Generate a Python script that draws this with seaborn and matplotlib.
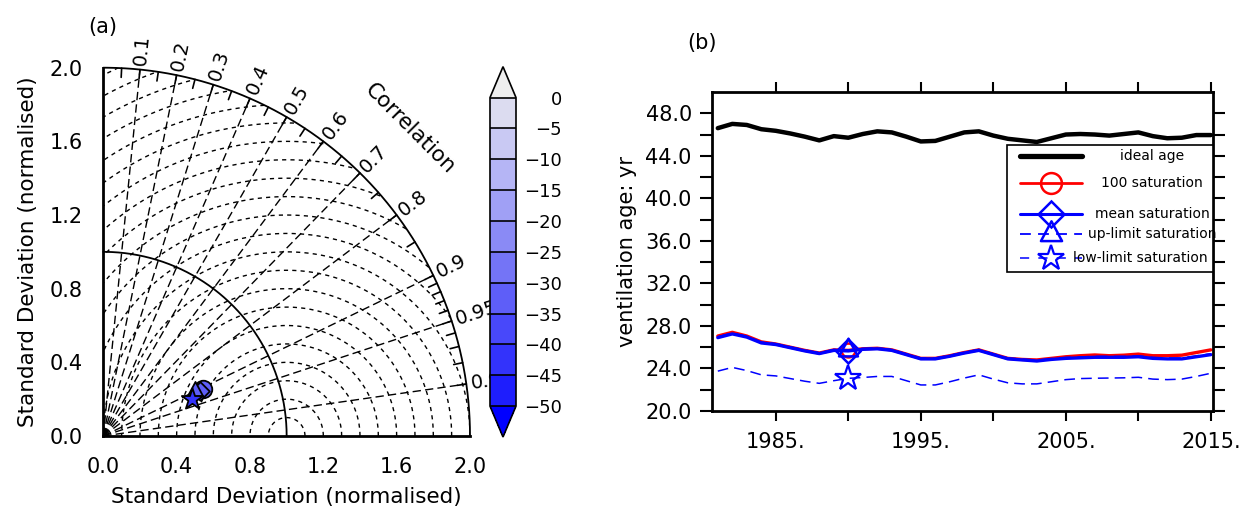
import numpy as np
import pandas as pd
import matplotlib
matplotlib.use("Agg")
import matplotlib.pyplot as plt
import seaborn as sns
from matplotlib.colors import ListedColormap, BoundaryNorm
from matplotlib.cm import ScalarMappable
from matplotlib.patches import Wedge, Rectangle
from matplotlib.lines import Line2D
from matplotlib.path import Path

# ---------------- data ----------------
years = list(range(1981, 2016))
ideal_age = [46.6, 47.0, 46.9, 46.5, 46.35, 46.1, 45.8, 45.45, 45.85, 45.7,
             46.05, 46.3, 46.2, 45.8, 45.35, 45.4, 45.8, 46.2, 46.3, 45.9,
             45.6, 45.45, 45.3, 45.65, 46.0, 46.05, 46.0, 45.9, 46.05, 46.2,
             45.85, 45.65, 45.7, 45.95, 45.95]
sat100 = [27.05, 27.4, 27.05, 26.5, 26.3, 26.0, 25.7, 25.45, 25.75, 25.7,
          25.85, 25.9, 25.75, 25.35, 24.95, 24.95, 25.2, 25.5, 25.75, 25.35,
          24.95, 24.85, 24.8, 24.95, 25.1, 25.2, 25.27, 25.2, 25.25, 25.35,
          25.2, 25.2, 25.25, 25.5, 25.75]
sat_mean = [26.9, 27.25, 26.95, 26.4, 26.25, 25.95, 25.65, 25.4, 25.7, 25.65,
            25.8, 25.85, 25.7, 25.3, 24.9, 24.9, 25.15, 25.45, 25.7, 25.3,
            24.9, 24.8, 24.7, 24.85, 24.95, 25.0, 25.05, 25.05, 25.05, 25.1,
            24.95, 24.9, 24.9, 25.1, 25.3]
sat_up = [26.98, 27.33, 27.03, 26.48, 26.33, 26.03, 25.73, 25.48, 25.78, 25.73,
          25.88, 25.93, 25.78, 25.38, 24.98, 24.98, 25.23, 25.53, 25.78, 25.38,
          24.98, 24.88, 24.78, 24.93, 25.03, 25.08, 25.13, 25.13, 25.13, 25.18,
          25.03, 24.98, 24.98, 25.18, 25.38]
sat_low = [23.75, 24.1, 23.8, 23.4, 23.3, 23.05, 22.8, 22.6, 22.85, 23.07,
           23.15, 23.25, 23.25, 22.85, 22.45, 22.45, 22.75, 23.1, 23.4, 23.0,
           22.65, 22.55, 22.55, 22.75, 22.95, 23.05, 23.08, 23.1, 23.12, 23.17,
           23.0, 22.95, 23.0, 23.25, 23.55]
marker_year = 1990

series_names = ["ideal age", "100 saturation", "mean saturation",
                "up-limit saturation", "low-limit saturation"]

# Taylor diagram data (normalised std, correlation, colour value)
taylor_names = ["100 saturation", "mean saturation", "up-limit saturation", "low-limit saturation"]
taylor_std = [0.599, 0.581, 0.555, 0.522]
taylor_corr = [0.905, 0.909, 0.897, 0.924]
taylor_val = [-33, -33, -33, -43]

corr_lines = [0.1, 0.2, 0.3, 0.4, 0.5, 0.6, 0.7, 0.8, 0.9, 0.95, 0.99]
corr_labels = ["0.1", "0.2", "0.3", "0.4", "0.5", "0.6", "0.7", "0.8", "0.9", "0.95", "0.99"]
corr_ticks = [0.05, 0.15, 0.25, 0.35, 0.45, 0.55, 0.65, 0.75, 0.85,
              0.91, 0.92, 0.93, 0.94, 0.96, 0.97, 0.98]
rms_levels = [round(0.1 * k, 1) for k in range(1, 23)]
std_arcs = [1.0, 2.0]
std_ticks = [0.0, 0.2, 0.4, 0.6, 0.8, 1.0, 1.2, 1.4, 1.6, 1.8, 2.0]
std_tick_labels = ["0.0", "", "0.4", "", "0.8", "", "1.2", "", "1.6", "", "2.0"]

cbar_levels = [-50, -45, -40, -35, -30, -25, -20, -15, -10, -5, 0]
cbar_colors = ["#1e1efd", "#3333fb", "#4848fa", "#5e5ef8", "#7474f6",
               "#8a8af5", "#a0a0f5", "#b5b5f5", "#c9c9f3", "#dcdcf0"]
cbar_under = "#0000ff"
cbar_over = "#eeeeee"

xticks_b = [1985, 1990, 1995, 2000, 2005, 2010, 2015]
xtick_labels_b = ["1985.", "", "1995.", "", "2005.", "", "2015."]
yticks_b = [20, 24, 28, 32, 36, 40, 44, 48]
ytick_labels_b = ["20.0", "24.0", "28.0", "32.0", "36.0", "40.0", "44.0", "48.0"]
yminor_b = [22, 26, 30, 34, 38, 42, 46]

# ---------------- style ----------------
sns.set_style("white")
plt.rcParams["font.family"] = ["DejaVu Sans"]
plt.rcParams["axes.linewidth"] = 2.0
for k in ["text.color", "axes.labelcolor", "xtick.color", "ytick.color", "axes.edgecolor"]:
    plt.rcParams[k] = "black"

W, H = 1242, 508
fig = plt.figure(figsize=(W / 100, H / 100), dpi=100)

# ---------------- panel (a): Taylor diagram ----------------
axA = fig.add_axes([103.3 / W, (H - 436) / H, 366.7 / W, 368.3 / H])
axA.set_xlim(0, 2)
axA.set_ylim(0, 2)
for s in ["top", "right"]:
    axA.spines[s].set_visible(False)

clip = Wedge((0, 0), 2.0, 0, 90, transform=axA.transData)
t = np.linspace(0, np.pi, 800)
for rr in rms_levels:
    ln, = axA.plot(1 + rr * np.cos(t), rr * np.sin(t), color="k", lw=1.0,
                   ls=(0, (3, 3)), zorder=2)
    ln.set_clip_path(clip)

for c in corr_lines:
    a = np.arccos(c)
    axA.plot([0, 2 * np.cos(a)], [0, 2 * np.sin(a)], color="k", lw=1.0,
             ls=(0, (6, 3)), zorder=2, clip_on=False)

tq = np.linspace(0, np.pi / 2, 400)
for r in std_arcs:
    axA.plot(r * np.cos(tq), r * np.sin(tq), color="k", lw=1.3, zorder=3, clip_on=False)

for c in corr_lines + corr_ticks:
    a = np.arccos(c)
    axA.plot([1.95 * np.cos(a), 2 * np.cos(a)], [1.95 * np.sin(a), 2 * np.sin(a)],
             color="k", lw=1.2, zorder=3, clip_on=False)

for c, lab in zip(corr_lines, corr_labels):
    a = np.arccos(c)
    axA.text(2.025 * np.cos(a), 2.025 * np.sin(a), lab, rotation=np.degrees(a),
             rotation_mode="anchor", ha="left", va="center", fontsize=14,
             clip_on=False)
axA.text(1.673, 1.67, "Correlation", rotation=-45, ha="center", va="center",
         fontsize=15.5, rotation_mode="anchor")

cmap = ListedColormap(cbar_colors)
cmap.set_under(cbar_under)
cmap.set_over(cbar_over)
norm = BoundaryNorm(cbar_levels, cmap.N)

tri_centroid = Path([(0, 2), (-1.6, -1), (1.6, -1), (0, 2)],
                    [Path.MOVETO, Path.LINETO, Path.LINETO, Path.CLOSEPOLY])
t_markers = ["o", "D", tri_centroid, "*"]
t_sizes = [160, 90, 190, 260]
tdf = pd.DataFrame({"name": taylor_names, "std": taylor_std, "corr": taylor_corr,
                    "val": taylor_val})
tdf["x"] = tdf["std"] * tdf["corr"]
tdf["y"] = tdf["std"] * np.sin(np.arccos(tdf["corr"]))
for i, row in tdf.iterrows():
    sns.scatterplot(x=[row["x"]], y=[row["y"]], ax=axA, marker=t_markers[i],
                    s=t_sizes[i], color=cmap(norm(row["val"])), edgecolor="k",
                    linewidth=1.3, zorder=6 + i, clip_on=False)

axA.set_xticks(std_ticks)
axA.set_xticklabels(std_tick_labels)
axA.set_yticks(std_ticks)
axA.set_yticklabels(std_tick_labels)
axA.tick_params(direction="out", length=7, width=1.5, labelsize=15, pad=8)
axA.set_xlabel("Standard Deviation (normalised)", fontsize=15.5, labelpad=7)
axA.set_ylabel("Standard Deviation (normalised)", fontsize=15.5, labelpad=8)

# colorbar
cax = fig.add_axes([490 / W, (H - 437) / H, 26 / W, (437 - 66.7) / H])
sm = ScalarMappable(norm=norm, cmap=cmap)
cb = fig.colorbar(sm, cax=cax, extend="both", extendfrac=0.1, drawedges=True)
cb.set_ticks(cbar_levels)
cb.outline.set_linewidth(1.2)
cb.dividers.set_linewidth(1.2)
cax.tick_params(length=0, pad=33, labelsize=13)
for tl in cax.get_yticklabels():
    tl.set_ha("right")

fig.text(103 / W, 1 - 27 / H, "(a)", ha="center", va="center", fontsize=15)
fig.text(702 / W, 1 - 43 / H, "(b)", ha="center", va="center", fontsize=15)

# ---------------- panel (b): time series ----------------
axB = fig.add_axes([712 / W, (H - 411) / H, 501 / W, 319 / H])
i_m = years.index(marker_year)

sns.lineplot(x=years, y=ideal_age, ax=axB, color="k", lw=3.2)
sns.lineplot(x=years, y=sat100, ax=axB, color="red", lw=2.4, marker="o",
             markevery=[i_m], markersize=10, markerfacecolor="none",
             markeredgecolor="red", markeredgewidth=1.8)
sns.lineplot(x=years, y=sat_up, ax=axB, color="blue", lw=1.2, ls=(0, (7, 4)),
             marker=tri_centroid, markevery=[i_m], markersize=17,
             markerfacecolor="none", markeredgecolor="blue", markeredgewidth=1.8)
sns.lineplot(x=years, y=sat_mean, ax=axB, color="blue", lw=2.4, marker="D",
             markevery=[i_m], markersize=12, markerfacecolor="none",
             markeredgecolor="blue", markeredgewidth=1.8)
sns.lineplot(x=years, y=sat_low, ax=axB, color="blue", lw=1.1, ls=(0, (7, 4)),
             marker="*", markevery=[i_m], markersize=19, markerfacecolor="none",
             markeredgecolor="blue", markeredgewidth=1.6)

axB.set_xlim(1980.6, 2015.15)
axB.set_ylim(20, 50)
axB.set_xticks(xticks_b)
axB.set_xticklabels(xtick_labels_b)
axB.set_yticks(yticks_b)
axB.set_yticklabels(ytick_labels_b)
axB.set_yticks(yminor_b, minor=True)
axB.tick_params(axis="x", which="both", direction="out", top=True, bottom=True,
                length=7, width=1.5, labelsize=15, pad=8)
axB.tick_params(axis="y", which="both", direction="out", left=True, right=True,
                length=8.5, width=1.5, labelsize=15, pad=6)
axB.set_xlabel("")
axB.set_ylabel("ventilation age: yr", fontsize=15, labelpad=6)

# legend (drawn manually to mimic centred labels)
leg_y = [0.800, 0.715, 0.618, 0.555, 0.480]
leg_styles = [
    dict(color="k", lw=3.8, marker=None),
    dict(color="red", lw=2.0, marker="o", ms=15, mfc="none", mec="red", mew=1.8),
    dict(color="blue", lw=2.2, marker="D", ms=13, mfc="none", mec="blue", mew=1.8),
    dict(color="blue", lw=1.3, ls=(0, (6, 4)), marker=tri_centroid, ms=19, mfc="none", mec="blue", mew=1.8),
    dict(color="blue", lw=1.1, ls=(0, (6, 6)), marker="*", ms=19, mfc="none", mec="blue", mew=1.6),
]
leg_tx = [0.878, 0.878, 0.878, 0.878, 0.854]
axB.add_patch(Rectangle((0.589, 0.437), 0.411, 0.397, transform=axB.transAxes,
                        facecolor="white", edgecolor="k", lw=1.2, zorder=10))
for y, st, tx, name in zip(leg_y, leg_styles, leg_tx, series_names):
    ln = Line2D([0.615, 0.677, 0.738], [y, y, y], transform=axB.transAxes,
                markevery=[1], zorder=11, **st)
    axB.add_line(ln)
    axB.text(tx, y, name, transform=axB.transAxes, ha="center", va="center",
             fontsize=10, zorder=12)

fig.savefig("out.png", dpi=100)
